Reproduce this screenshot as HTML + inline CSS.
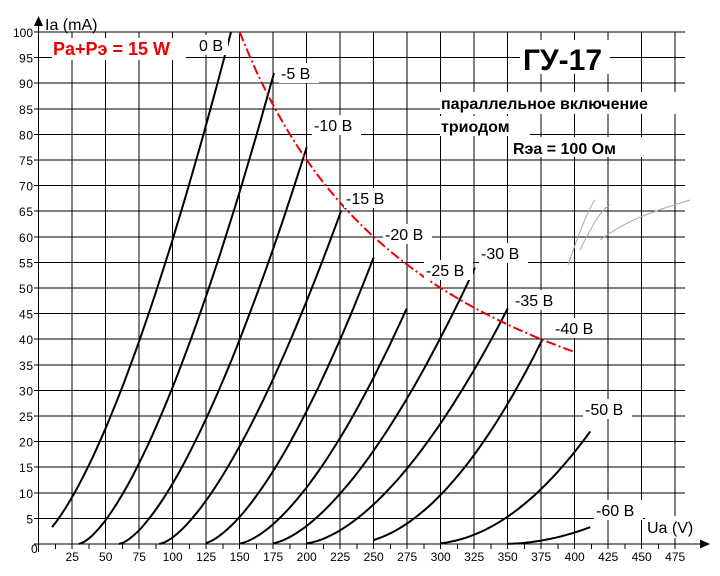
<!DOCTYPE html>
<html><head><meta charset="utf-8">
<style>
html,body{margin:0;padding:0;background:#fff;}
svg{display:block;font-family:"Liberation Sans",sans-serif;}
</style></head>
<body>
<svg id="s" width="720" height="576" viewBox="0 0 720 576" xmlns="http://www.w3.org/2000/svg">
<rect width="720" height="576" fill="#fff"/>
<g id="grid" stroke="#000" stroke-width="1" shape-rendering="crispEdges"></g>
<g id="curves" fill="none" stroke="#000" stroke-width="2"></g>
<path id="red" fill="none" stroke="#e00" stroke-width="2" stroke-dasharray="10,3,2,3"/>
<g id="labels" font-size="15"></g>
</svg>
<script>
const X=v=>38.7+v*1.34, Y=i=>544-i*5.12;
const g=document.getElementById('grid');
let h='';
for(let i=5;i<=100;i+=5){h+=`<line x1="34" y1="${Y(i).toFixed(1)}" x2="685" y2="${Y(i).toFixed(1)}"/>`;}
for(let v=25;v<=475;v+=25){h+=`<line x1="${X(v).toFixed(1)}" y1="32" x2="${X(v).toFixed(1)}" y2="549"/>`;}
for(let v=12.5;v<=475;v+=25){h+=`<line x1="${X(v).toFixed(1)}" y1="544" x2="${X(v).toFixed(1)}" y2="549"/>`;}
h+=`<line x1="38.5" y1="26" x2="38.5" y2="552"/><line x1="34" y1="544" x2="702" y2="544"/>`;
g.innerHTML=h;
let t='';
t+=`<polygon points="38.5,16 34,26 43,26" fill="#000"/><polygon points="710,544 700,539.5 700,548.5" fill="#000"/>`;
for(let i=5;i<=100;i+=5){t+=`<text x="33" y="${(Y(i)+5).toFixed(1)}" font-size="12" text-anchor="end" textLength="${i<100?14:20}">${i}</text>`;}
for(let v=25;v<=475;v+=25){t+=`<text x="${X(v).toFixed(1)}" y="561" font-size="12" text-anchor="middle">${v}</text>`;}
t+=`<text x="31" y="553" font-size="12">0</text>`;
t+=`<text x="45" y="30" font-size="16">Ia (mA)</text>`;
t+=`<rect x="645" y="516" width="42" height="22" fill="#fff"/><text x="647" y="533" font-size="16">Ua (V)</text>`;
const labs=[["0 В",199,45],["-5 В",281,73],["-10 В",314,125],["-15 В",346,198],["-20 В",385,234],["-25 В",426,270],["-30 В",481,253],["-35 В",515,300],["-40 В",555,328],["-50 В",585,409],["-60 В",596,510]];
for(const [s,x,y] of labs){const w=s.length*9+4;t+=`<rect x="${x-2}" y="${y-10}" width="${w}" height="20" fill="#fff"/><text x="${x}" y="${y+6}" font-size="16">${s}</text>`;}
t+=`<rect x="52" y="38" width="134" height="22" fill="#fff"/><text x="53" y="55" font-size="18" font-weight="bold" fill="#e00">Pa+Pэ = 15 W</text>`;
t+=`<rect x="520" y="40" width="90" height="34" fill="#fff"/><text x="523" y="70" font-size="30" font-weight="bold">ГУ-17</text>`;
t+=`<rect x="440" y="92" width="255" height="22" fill="#fff"/><text x="441" y="109" font-size="16" font-weight="bold">параллельное включение</text>`;
t+=`<rect x="440" y="116" width="90" height="20" fill="#fff"/><text x="441" y="132" font-size="16" font-weight="bold">триодом</text>`;
t+=`<rect x="511" y="137" width="133" height="20" fill="#fff"/><text x="513" y="154" font-size="16" font-weight="bold">Rэа = 100 Ом</text>`;
t+=`<path d="M568,265 C575,245 585,215 595,200 M580,250 C590,230 600,210 610,205 M600,240 C620,225 640,215 690,200" stroke="#aaa" stroke-width="1" fill="none"/>`;
document.getElementById('labels').innerHTML=t;
// curves: [V0, Vstart, Vend, Iend, p]
const C=[[-5.3,10,143.5,100,1.5],[30,30,175.6,92,1.5],[60,60,200,77.5,1.5],[90,90,225.6,65,1.5],[122,125,250,56,1.55],[148,150,274.6,46,1.6],[172,175,325.6,54,1.6],[196,200,350,46,1.7],[232,250,376,40,1.9],[290,300,411.6,22,2],[345,350,411.6,3.3,2]];
let cp='';
for(const [a,s,e,ie,p] of C){const k=ie/Math.pow(e-a,p);let d='';const n=40;
for(let j=0;j<=n;j++){const v=s+(e-s)*j/n;const i=k*Math.pow(Math.max(v-a,0),p);d+=(j?'L':'M')+X(v).toFixed(1)+','+Y(i).toFixed(1);}
cp+=`<path d="${d}"/>`;}
document.getElementById('curves').innerHTML=cp;
let d='';for(let j=0;j<=60;j++){const v=150+250*j/60;d+=(j?'L':'M')+X(v).toFixed(1)+','+Y(15000/v).toFixed(1);}
document.getElementById('red').setAttribute('d',d);
</script>
</body></html>
